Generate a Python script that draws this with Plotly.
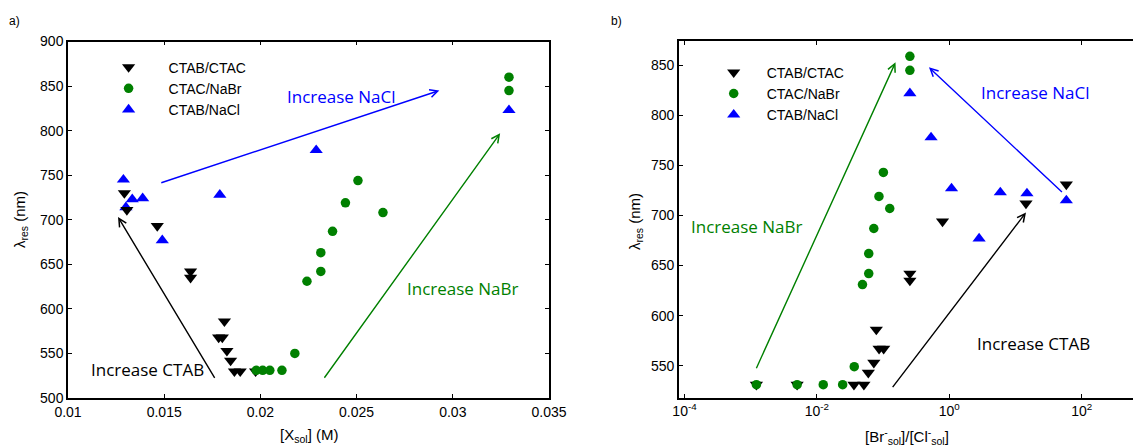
import math
import plotly.graph_objects as go

# ---------------- Panel a data ([X_sol] in M vs lambda_res in nm) ----------------
a_ctab_ctac_x = [0.01293, 0.01306, 0.01464, 0.01637, 0.01637, 0.01813, 0.01783, 0.01802,
                 0.01826, 0.01845, 0.01865, 0.01895, 0.01975]
a_ctab_ctac_y = [730, 711, 693, 642, 635, 586, 568, 568, 553, 542, 530, 530, 530]

a_ctac_nabr_x = [0.03292, 0.03292, 0.02507, 0.02442, 0.02637, 0.02375, 0.02314, 0.02314,
                 0.02242, 0.02179, 0.02112, 0.02049, 0.02012, 0.01978]
a_ctac_nabr_y = [860, 845, 744, 719, 708, 687, 663, 642, 631, 550, 531, 531, 531, 531]

a_ctab_nacl_x = [0.03292, 0.0229, 0.01288, 0.01789, 0.01334, 0.01388, 0.01301, 0.0149]
a_ctab_nacl_y = [823, 778, 745, 728, 723, 724, 714, 677]

# ---------------- Panel b data ([Br-]/[Cl-] vs lambda_res) ----------------
b_ctab_ctac_x = [0.00122, 0.00503, 0.0363, 0.0513, 0.0598, 0.0725, 0.087, 0.102, 0.079,
                 0.254, 0.254, 0.79, 14.4, 58.6]
b_ctab_ctac_y = [531, 531, 531, 531, 543, 553, 567, 567, 586, 642, 635, 694, 712, 731]

b_ctac_nabr_x = [0.00122, 0.00503, 0.01247, 0.0245, 0.0367, 0.0488, 0.0607, 0.0607, 0.0724,
                 0.0866, 0.101, 0.126, 0.254, 0.254]
b_ctac_nabr_y = [531, 531, 531, 531, 549, 631, 642, 662, 687, 719, 743, 707, 845, 859]

b_ctab_nacl_x = [0.254, 0.53, 1.08, 5.9, 14.9, 58.6, 2.82]
b_ctab_nacl_y = [822, 778, 727, 723, 722, 715, 677]

# ---------------- labels ----------------
legend_names = ["CTAB/CTAC", "CTAC/NaBr", "CTAB/NaCl"]
a_x_ticks = [0.01, 0.015, 0.02, 0.025, 0.03, 0.035]
a_x_ticktext = ["0.01", "0.015", "0.02", "0.025", "0.03", "0.035"]
a_y_ticks = [500, 550, 600, 650, 700, 750, 800, 850, 900]
b_x_ticks = [1e-4, 1e-2, 1, 1e2]
b_x_ticktext = ["10<sup>-4</sup>", "10<sup>-2</sup>", "10<sup>0</sup>", "10<sup>2</sup>"]
b_y_ticks = [550, 600, 650, 700, 750, 800, 850]

# arrows: (tail_x, tail_y, head_x, head_y, colour); texts: (x, y, text, colour)
a_arrows = [(0.01477, 741, 0.0293, 845, "#0000FF"),
            (0.02327, 521, 0.03246, 797, "#008000"),
            (0.01767, 521, 0.0126, 703, "#000000")]
a_texts = [(0.0242, 838, "Increase NaCl", "#0000FF"),
           (0.03055, 623, "Increase NaBr", "#008000"),
           (0.01412, 532, "Increase CTAB", "#000000")]
b_arrows = [(53.0, 722, 0.493, 848, "#0000FF"),
            (0.00119, 546, 0.154, 853, "#008000"),
            (0.134, 527, 14.4, 703, "#000000")]
b_texts = [(19.9, 823, "Increase NaCl", "#0000FF"),
           (0.00087, 689, "Increase NaBr", "#008000"),
           (18.4, 572, "Increase CTAB", "#000000")]

BLACK = "#000000"
GREEN = "#008000"
BLUE = "#0000FF"

fig = go.Figure()


def add_panel(series, xa, ya, leg):
    (bx, by), (kx, ky), (gx, gy) = series
    # blue first, then black, then green (drawing order)
    fig.add_trace(go.Scatter(x=bx, y=by, mode="markers", name=legend_names[2],
                             marker=dict(symbol="triangle-up", size=11.5, color=BLUE),
                             xaxis=xa, yaxis=ya, legend=leg, legendrank=3))
    fig.add_trace(go.Scatter(x=kx, y=ky, mode="markers", name=legend_names[0],
                             marker=dict(symbol="triangle-down", size=11.5, color=BLACK),
                             xaxis=xa, yaxis=ya, legend=leg, legendrank=1))
    fig.add_trace(go.Scatter(x=gx, y=gy, mode="markers", name=legend_names[1],
                             marker=dict(symbol="circle", size=9.5, color=GREEN),
                             xaxis=xa, yaxis=ya, legend=leg, legendrank=2))


add_panel([(a_ctab_nacl_x, a_ctab_nacl_y), (a_ctab_ctac_x, a_ctab_ctac_y),
           (a_ctac_nabr_x, a_ctac_nabr_y)], "x", "y", "legend")
add_panel([(b_ctab_nacl_x, b_ctab_nacl_y), (b_ctab_ctac_x, b_ctab_ctac_y),
           (b_ctac_nabr_x, b_ctac_nabr_y)], "x2", "y2", "legend2")

ann = []
for (tx, ty, hx, hy, c) in a_arrows:
    ann.append(dict(x=hx, y=hy, ax=tx, ay=ty, xref="x", yref="y", axref="x", ayref="y",
                    text="", showarrow=True, arrowhead=5, arrowsize=1.1, arrowwidth=1.4,
                    arrowcolor=c, standoff=0, startstandoff=0))
for (tx, ty, hx, hy, c) in b_arrows:
    ann.append(dict(x=math.log10(hx), y=hy, ax=math.log10(tx), ay=ty, xref="x2", yref="y2",
                    axref="x2", ayref="y2", text="", showarrow=True, arrowhead=5,
                    arrowsize=1.1, arrowwidth=1.4, arrowcolor=c, standoff=0, startstandoff=0))
for (x, y, t, c) in a_texts:
    ann.append(dict(x=x, y=y, xref="x", yref="y", text=t, showarrow=False,
                    xanchor="center", yanchor="middle",
                    font=dict(family="Open Sans", size=17, color=c)))
for (x, y, t, c) in b_texts:
    ann.append(dict(x=math.log10(x), y=y, xref="x2", yref="y2", text=t, showarrow=False,
                    xanchor="center", yanchor="middle",
                    font=dict(family="Open Sans", size=17, color=c)))

W, H = 1133, 448


def px(x):
    return x / W


def py(y):
    return 1 - y / H


axis_font = dict(family="Liberation Sans, Arial", size=14, color="#000000")
title_font = dict(family="Liberation Sans, Arial", size=15, color="#000000")
lab_font = dict(family="Liberation Sans, Arial", size=12, color="#000000")
paper_texts = [
    (14.5, 21, "a)", 0, lab_font),
    (616, 21, "b)", 0, lab_font),
    (308.5, 435, "[X<sub>sol</sub>] (M)", 0, title_font),
    (907, 436, "[Br<sup>-</sup><sub>sol</sub>]/[Cl<sup>-</sup><sub>sol</sub>]", 0, title_font),
    (20, 220, "λ<sub>res</sub> (nm)", -90, title_font),
    (635, 222, "λ<sub>res</sub> (nm)", -90, title_font),
]
for (x, y, t, ang, f) in paper_texts:
    ann.append(dict(x=px(x), y=py(y), xref="paper", yref="paper", text=t, textangle=ang,
                    xanchor="center", yanchor="middle", showarrow=False, font=f))

common = dict(showgrid=False, zeroline=False, showline=True, linecolor="#000",
              linewidth=1.5, ticks="inside", ticklen=4, tickwidth=1, tickcolor="#000",
              tickfont=axis_font, automargin=False)

fig.update_layout(
    width=W, height=H, margin=dict(l=0, r=0, t=0, b=0),
    paper_bgcolor="white", plot_bgcolor="white",
    annotations=ann,
    xaxis=dict(domain=[px(68), px(549)], range=[0.01, 0.035], tickvals=a_x_ticks,
               ticktext=a_x_ticktext, mirror="ticks", anchor="y", **common),
    yaxis=dict(domain=[py(398), py(41.5)], range=[500, 900], tickvals=a_y_ticks,
               mirror="ticks", anchor="x", **common),
    xaxis2=dict(domain=[px(678.8), 1.0], type="log", range=[-4.086, 2.775],
                tickvals=b_x_ticks, ticktext=b_x_ticktext, mirror="ticks", anchor="y2",
                **common),
    yaxis2=dict(domain=[py(397.7), py(41.3)], range=[518, 874], tickvals=b_y_ticks,
                mirror=False, anchor="x2", **common),
    legend=dict(x=px(88.6), y=py(51.5), xanchor="left", yanchor="top",
                bgcolor="rgba(0,0,0,0)", itemwidth=70, borderwidth=0,
                font=dict(family="Liberation Sans, Arial", size=14, color="#000")),
    legend2=dict(x=px(700.7), y=py(56.7), xanchor="left", yanchor="top",
                 bgcolor="rgba(0,0,0,0)", itemwidth=56, borderwidth=0,
                 font=dict(family="Liberation Sans, Arial", size=14, color="#000")),
    showlegend=True,
)

fig.write_html("out.html")
